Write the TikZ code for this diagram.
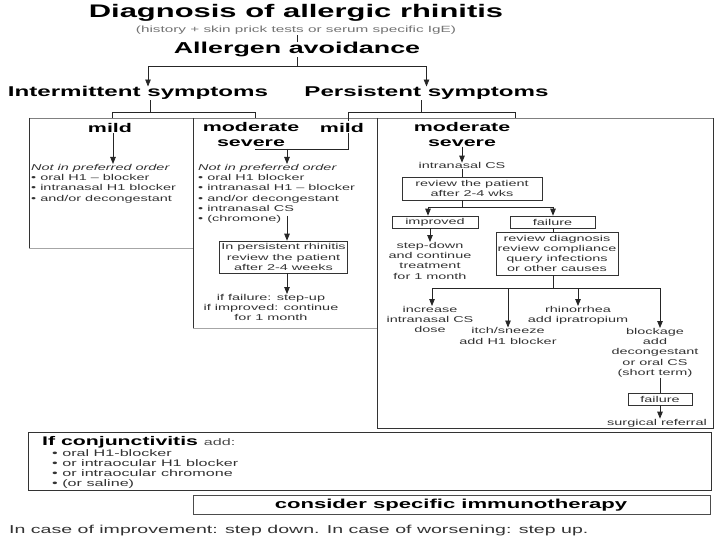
\documentclass[tikz,border=0pt]{standalone}
\usepackage{fontspec}
\setmainfont{Liberation Sans}[FakeStretch=1.7]
\usetikzlibrary{arrows.meta}
\tikzset{
  txt/.style={inner sep=0pt, font=\fontsize{8.5}{10.3}\selectfont, text=black!80, align=center},
  hd/.style={inner sep=0pt, font=\fontsize{12.6}{14.5}\selectfont\bfseries, align=center},
  big/.style={inner sep=0pt, font=\fontsize{14.2}{16}\selectfont\bfseries},
  bx/.style={txt, draw=black!80, line width=0.6pt, inner sep=1.5pt},
  ln/.style={line width=0.8pt, draw=black!85},
  arr/.style={ln, -{Triangle[length=7pt,width=5.5pt]}},
  frame/.style={line width=0.7pt, draw=black!80},
  faint/.style={line width=0.6pt, draw=black!35}
}
\begin{document}
\begin{tikzpicture}[x=1pt,y=-1pt]
\useasboundingbox[fill=white] (0,0) rectangle (720,540);

% ---------- header ----------
\node[inner sep=0pt, font=\fontsize{18.2}{20}\selectfont\bfseries, anchor=base] (title) at (296,17.5) {Diagnosis of allergic rhinitis};
\node[inner sep=0pt, font=\fontsize{9}{10}\selectfont, text=black!55, anchor=base] (sub) at (296,33) {(history + skin prick tests or serum specific IgE)};
\node[inner sep=0pt, font=\fontsize{15.8}{18}\selectfont\bfseries, anchor=base] (allerg) at (297,53.5) {Allergen avoidance};
\node[big, anchor=base] (inter) at (138,97) {Intermittent symptoms};
\node[big, anchor=base] (pers) at (426.5,97) {Persistent symptoms};

\draw[ln] (sub.south -| allerg.north) -- (allerg.north);
\coordinate (jTop) at (297,66);
\draw[ln] (allerg.south) -- (jTop);
\draw[arr] (jTop) -| ([xshift=10pt]inter.north);
\draw[arr] (jTop) -| (pers.north);

% ---------- frames ----------
\draw[line width=0.6pt, draw=black!50] (29,118) -- (713,118);
\draw[frame] (29,118) -- (29,248);
\draw[frame] (193,118) -- (193,328);
\draw[frame] (377,118) -- (377,428) -- (713,428) -- (713,118);
\draw[faint] (29,248) -- (193,248);
\draw[faint] (193,328) -- (377,328);

% ---------- intermittent tree ----------
\coordinate (jI) at (150,112);
\coordinate (jIL) at (112,112);
\coordinate (jIR) at (255,112);
\draw[ln] (inter.south -| jI) -- (jI);
\draw[ln] (112,118) -- (jIL) -- (jIR) -- (255,118);

% ---------- persistent tree ----------
\coordinate (jP) at (421,112);
\coordinate (jPL) at (348,112);
\coordinate (jPR) at (515,112);
\draw[ln] (pers.south -| jP) -- (jP);
\draw[ln] (348,121) -- (jPL) -- (jPR) -- (515,118);

% ---------- box A ----------
\node[hd, anchor=base] (mildA) at (110,132.5) {mild};
\node[txt, align=left, anchor=north west] (blkA) at (31,164) {\textit{Not in preferred order}\\• oral H1 – blocker\\• intranasal H1 blocker\\• and/or decongestant};
\draw[arr] ([xshift=3pt]mildA.south) -- ([xshift=3pt]mildA.south |- blkA.north);

% ---------- box B ----------
\node[hd, anchor=north] (msB) at (251,122.5) {moderate\\severe};
\node[hd, anchor=base] (mildB) at (342,132.5) {mild};
\coordinate (bL) at (255,149);
\coordinate (bR) at (348,149);
\coordinate (jB) at (287,149);
\draw[ln] (mildB.south -| bR) -- (bR) -- (bL);
\node[txt, align=left, anchor=north west] (blkB) at (198,164) {\textit{Not in preferred order}\\• oral H1 blocker\\• intranasal H1 – blocker\\• and/or decongestant\\• intranasal CS\\• (chromone)};
\draw[arr] (jB) -- (jB |- blkB.north);
\node[bx, minimum width=123pt, minimum height=32pt] (persB) at (283.5,257) {In persistent rhinitis\\review the patient\\after 2-4 weeks};
\coordinate (cB) at (287,216);
\draw[arr] (cB) -- (cB |- persB.north);
\node[txt, anchor=north] (stepB) at (271,294) {if failure: step-up\\if improved: continue\\for 1 month};
\draw[arr] (persB.south -| cB) -- (cB |- stepB.north);

% ---------- box C ----------
\node[hd, anchor=north] (msC) at (462,122.5) {moderate\\severe};
\node[txt, anchor=base] (csC) at (462,169) {intranasal CS};
\draw[arr] (msC.south) -- (msC.south |- csC.north);
\node[bx, minimum width=140pt, minimum height=23pt] (revC) at (472,188.5) {review the patient\\after 2-4 wks};
\draw[ln] (csC.south) -- (csC.south |- revC.north);
\coordinate (jC) at (462,207);
\coordinate (jCL) at (428,207);
\coordinate (jCR) at (553,207);
\draw[ln] (revC.south -| jC) -- (jC);
\draw[ln] (jCL) -- (jCR);
\node[bx, minimum width=86pt, minimum height=12pt] (impC) at (435,222) {improved};
\node[bx, minimum width=85pt, minimum height=12pt] (failC) at (552.5,222) {failure};
\draw[arr] (jCL) -- (jCL |- impC.north);
\draw[arr] (jCR) -- (jCR |- failC.north);
\node[txt, anchor=north] (stepC) at (430,242) {step-down\\and continue\\treatment\\for 1 month};
\draw[arr] (impC.south -| stepC.north) -- (stepC.north);
\node[bx, minimum width=120pt, minimum height=43pt] (diagC) at (557,253.5) {review diagnosis\\review compliance\\query infections\\or other causes};
\draw[ln] (failC.south -| jCR) -- (jCR |- diagC.north);

\coordinate (jD) at (553,288);
\coordinate (jD1) at (432,288);
\coordinate (jD2) at (508,288);
\coordinate (jD3) at (578,288);
\coordinate (jD4) at (660,288);
\draw[ln] (diagC.south -| jD) -- (jD);
\draw[ln] (jD1) -- (jD4);
\node[txt, anchor=north] (incC) at (430,306) {increase\\intranasal CS\\dose};
\node[txt, anchor=north] (itchC) at (508,327.5) {itch/sneeze\\add H1 blocker};
\node[txt, anchor=north] (rhinC) at (578,306) {rhinorrhea\\add ipratropium};
\node[txt, anchor=north] (blockC) at (655,328) {blockage\\add\\decongestant\\or oral CS\\(short term)};
\draw[arr] (jD1) -- (jD1 |- incC.north);
\draw[arr] (jD2) -- (jD2 |- itchC.north);
\draw[arr] (jD3) -- (jD3 |- rhinC.north);
\draw[arr] (jD4) -- (jD4 |- blockC.north);
\node[bx, minimum width=64pt, minimum height=12pt] (fail2) at (660,399) {failure};
\draw[ln] (blockC.south -| fail2.north) -- (fail2.north);
\node[txt, anchor=base] (surg) at (657,425) {surgical referral};
\draw[arr] (fail2.south) -- (fail2.south |- surg.north);

% ---------- conjunctivitis ----------
\draw[frame] (28,432) rectangle (711,490);
\node[inner sep=0pt, anchor=base west] (conjH) at (42,445) {\fontsize{12.5}{14}\selectfont\bfseries If conjunctivitis \mdseries\fontsize{9.5}{10}\selectfont\color{black!70}add:};
\node[txt, font=\fontsize{9.5}{10.3}\selectfont, align=left, anchor=north west] (conjL) at (52,449) {• oral H1-blocker\\• or intraocular H1 blocker\\• or intraocular chromone\\• (or saline)};

% ---------- immunotherapy ----------
\node[draw=black!70, line width=0.7pt, minimum width=517pt, minimum height=19pt, inner sep=0pt] (consBox) at (451.5,504.5) {};
\node[inner sep=0pt, font=\fontsize{13}{15}\selectfont\bfseries, anchor=base] (cons) at (451,508) {consider specific immunotherapy};

% ---------- footer ----------
\node[inner sep=0pt, font=\fontsize{11.5}{13}\selectfont, text=black!80, anchor=base west] (foot) at (9,533) {In case of improvement: step down. In case of worsening: step up.};
\end{tikzpicture}
\end{document}
